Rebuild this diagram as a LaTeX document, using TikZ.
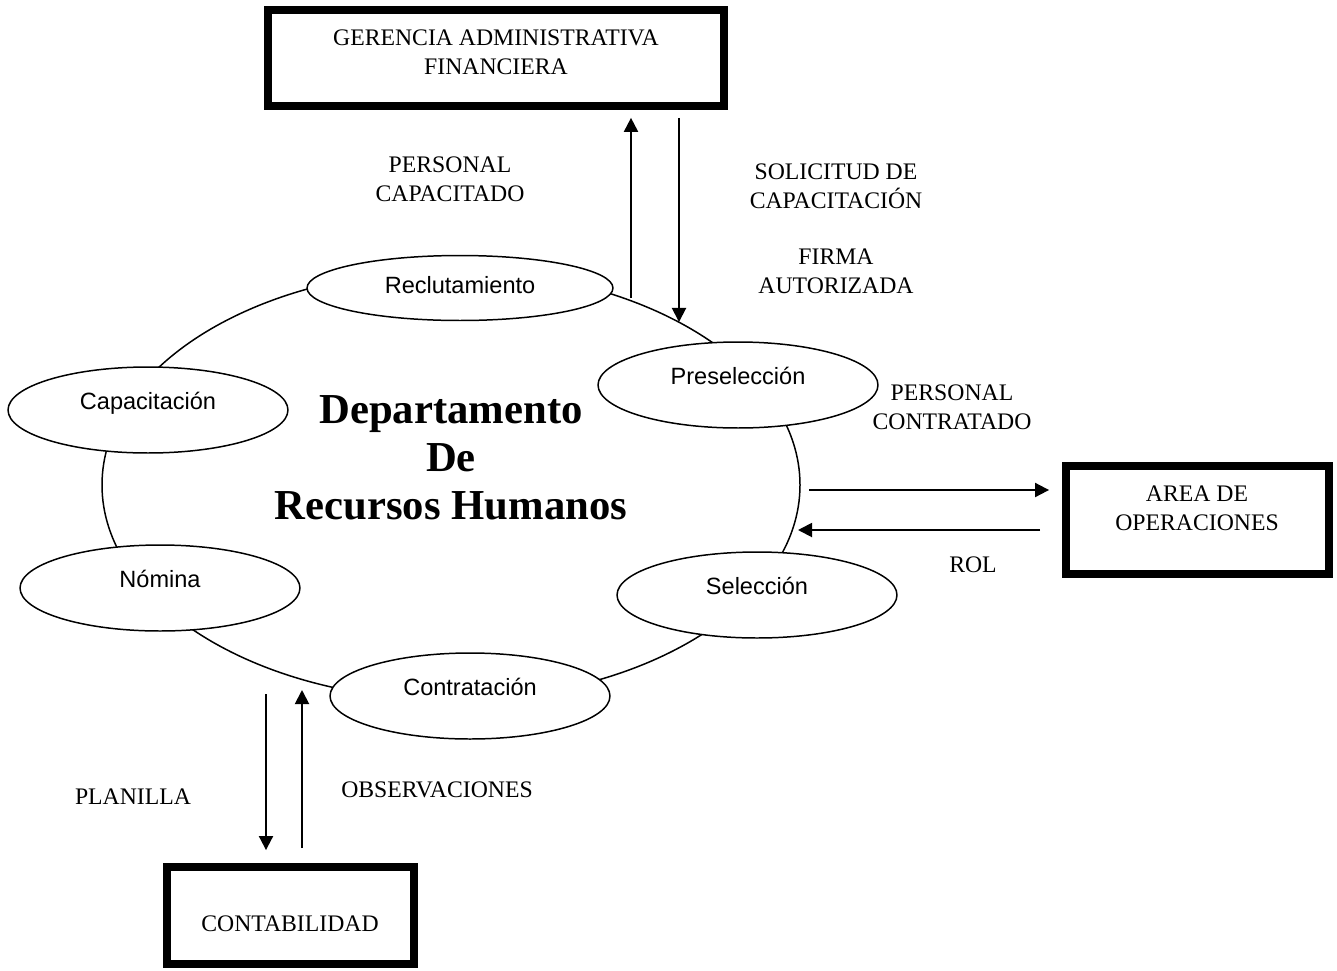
\documentclass[tikz,border=0pt]{standalone}
\usepackage{fontspec}
\setmainfont{Liberation Serif}
\newfontfamily\arialfont{Liberation Sans}
\usetikzlibrary{arrows.meta,shapes.geometric}

\tikzset{
  proceso/.style={ellipse,draw,line width=0.85pt,fill=white,inner sep=0pt,
    minimum width=5.6cm,minimum height=1.72cm,text height=9pt,text depth=10pt,
    font=\arialfont\fontsize{13.4}{15}\selectfont},
  entidad/.style={draw,line width=4.5pt,inner sep=0pt},
  etiqueta/.style={align=center,font=\fontsize{13.5}{16.5}\selectfont},
  flecha/.style={->,line width=1.1pt}
}

\begin{document}
\begin{tikzpicture}[x=0.02cm,y=-0.02cm,>={Triangle[length=8pt,width=8pt]}]
\useasboundingbox (0,0) rectangle (1337,970);

% departamento
\draw[line width=0.85pt] (451,485) ellipse [x radius=349, y radius=215];
\node[align=center,font=\bfseries\fontsize{24.3}{27.3}\selectfont] (depto) at (451,458)
  {Departamento\\De\\Recursos Humanos};

\node[proceso,minimum width=6.12cm,minimum height=1.3cm,text depth=3pt] (rec) at (460,288) {Reclutamiento};
\node[proceso] (pre) at (738,385) {Preselecci\'on};
\node[proceso] (cap) at (148,410) {Capacitaci\'on};
\node[proceso] (nom) at (160,588) {N\'omina};
\node[proceso] (sel) at (757,595) {Selecci\'on};
\node[proceso] (con) at (470,696) {Contrataci\'on};

% entidades externas
\node[entidad,minimum width=9.12cm,minimum height=1.92cm] (ger) at (496,58) {};
\node[etiqueta] (gerT) at (496,52) {GERENCIA ADMINISTRATIVA\\FINANCIERA};
\node[entidad,minimum width=5.26cm,minimum height=2.16cm] (area) at (1197.5,520) {};
\node[etiqueta] (areaT) at (1197,508) {AREA DE\\OPERACIONES};
\node[entidad,minimum width=4.94cm,minimum height=1.94cm] (cont) at (290.5,915.5) {};
\node[etiqueta] (contT) at (290,924) {CONTABILIDAD};

% flujos
\coordinate (pcap) at (631,298);
\coordinate (sol) at (679,322);
\coordinate (pcon) at (809,490);
\coordinate (rol) at (798,530);
\coordinate (pla) at (266,694);
\coordinate (obs) at (302,690);

\draw[flecha,shorten >=4.5pt] (pcap) -- (pcap |- ger.south);
\draw[flecha,shorten <=4.5pt] (sol |- ger.south) -- (sol);
\draw[flecha,shorten >=7.4pt] (pcon) -- (pcon -| area.west);
\draw[flecha,shorten <=12.5pt] (rol -| area.west) -- (rol);
\draw[flecha,shorten >=7.4pt] (pla) -- (pla |- cont.north);
\draw[flecha,shorten <=8.5pt] (obs |- cont.north) -- (obs);

\node[etiqueta] (lpcap) at (450,179) {PERSONAL\\CAPACITADO};
\node[etiqueta] (lsol) at (836,186) {SOLICITUD DE\\CAPACITACI\'ON};
\node[etiqueta] (lfir) at (836,271) {FIRMA\\AUTORIZADA};
\node[etiqueta] (lpcon) at (952,407) {PERSONAL\\CONTRATADO};
\node[etiqueta] (lrol) at (973,565) {ROL};
\node[etiqueta] (lpla) at (133,797) {PLANILLA};
\node[etiqueta] (lobs) at (437,790) {OBSERVACIONES};
\end{tikzpicture}
\end{document}
